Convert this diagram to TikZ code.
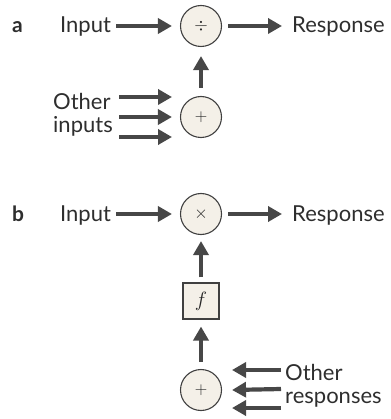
\documentclass[tikz,border=0pt]{standalone}
\usepackage{fontspec}
\setmainfont{Lato}
\usetikzlibrary{arrows.meta}
\definecolor{arr}{HTML}{474747}
\definecolor{cfill}{HTML}{F4F0E8}
\definecolor{txt}{HTML}{2E2E2E}
\begin{document}
\begin{tikzpicture}[x=1pt,y=-1pt,
 lbl/.style={font=\fontsize{22}{23}\selectfont, inner sep=0pt, text=txt},
 op/.style={circle, draw=black!75, line width=1.1pt, fill=cfill, minimum size=41pt, inner sep=0pt, font=\fontsize{18}{18}\selectfont, text=black!85},
 fnbox/.style={rectangle, draw=black!75, line width=1.1pt, fill=cfill, minimum size=36pt, inner sep=0pt, font=\fontsize{22}{22}\selectfont, text=black!85},
 ar/.style={draw=arr, line width=4.2pt, -{Triangle[length=14pt,width=15pt]}},
]
\useasboundingbox (0,0) rectangle (390,419);
% panel a
\node[lbl, font=\bfseries\fontsize{21}{23}\selectfont, anchor=base west] (la) at (12,33) {a};
\node[lbl, anchor=base west] (ina) at (60,33) {Input};
\node[op] (div) at (201,26) {$\div$};
\node[lbl, anchor=base west] (resa) at (292,33) {Response};
\node[op] (suma) at (201,117) {$+$};
\node[lbl, anchor=base west, align=left] (otha) at (53,133) {Other\\inputs};
\draw[ar] ([xshift=5pt]ina.east |- div) -- ([xshift=-8pt]div.west);
\draw[ar] ([xshift=6pt]div.east) -- ([xshift=-10pt]resa.west |- div);
\draw[ar] ([yshift=8pt]suma.north) -- ([yshift=-9pt]div.south);
\coordinate (ia1) at (119,97);
\coordinate (ia2) at (119,117);
\coordinate (ia3) at (119,137);
\coordinate (ta1) at (172,97);
\coordinate (ta3) at (172,137);
\draw[ar] (ia1) -- (ta1);
\draw[ar] (ia2) -- ([xshift=-8pt]suma.west);
\draw[ar] (ia3) -- (ta3);
% panel b
\node[lbl, font=\bfseries\fontsize{21}{23}\selectfont, anchor=base west] (lb) at (12,221) {b};
\node[lbl, anchor=base west] (inb) at (60,221) {Input};
\node[op] (mul) at (201,214) {$\times$};
\node[lbl, anchor=base west] (resb) at (292,221) {Response};
\node[fnbox] (f) at (201,301) {$f$};
\node[op] (sumb) at (201,390) {$+$};
\node[lbl, anchor=base west, align=left] (othb) at (285,403) {Other\\responses};
\draw[ar] ([xshift=5pt]inb.east |- mul) -- ([xshift=-8pt]mul.west);
\draw[ar] ([xshift=6pt]mul.east) -- ([xshift=-10pt]resb.west |- mul);
\draw[ar] ([yshift=5pt]f.north) -- ([yshift=-6pt]mul.south);
\draw[ar] ([yshift=7pt]sumb.north) -- ([yshift=-7pt]f.south);
\coordinate (rb1) at (281,370);
\coordinate (rb2) at (281,389);
\coordinate (rb3) at (281,408);
\coordinate (tb1) at (232,370);
\coordinate (tb3) at (232,408);
\draw[ar] (rb1) -- (tb1);
\draw[ar] (rb2) -- ([xshift=10pt]sumb.east);
\draw[ar] (rb3) -- (tb3);
\end{tikzpicture}
\end{document}
